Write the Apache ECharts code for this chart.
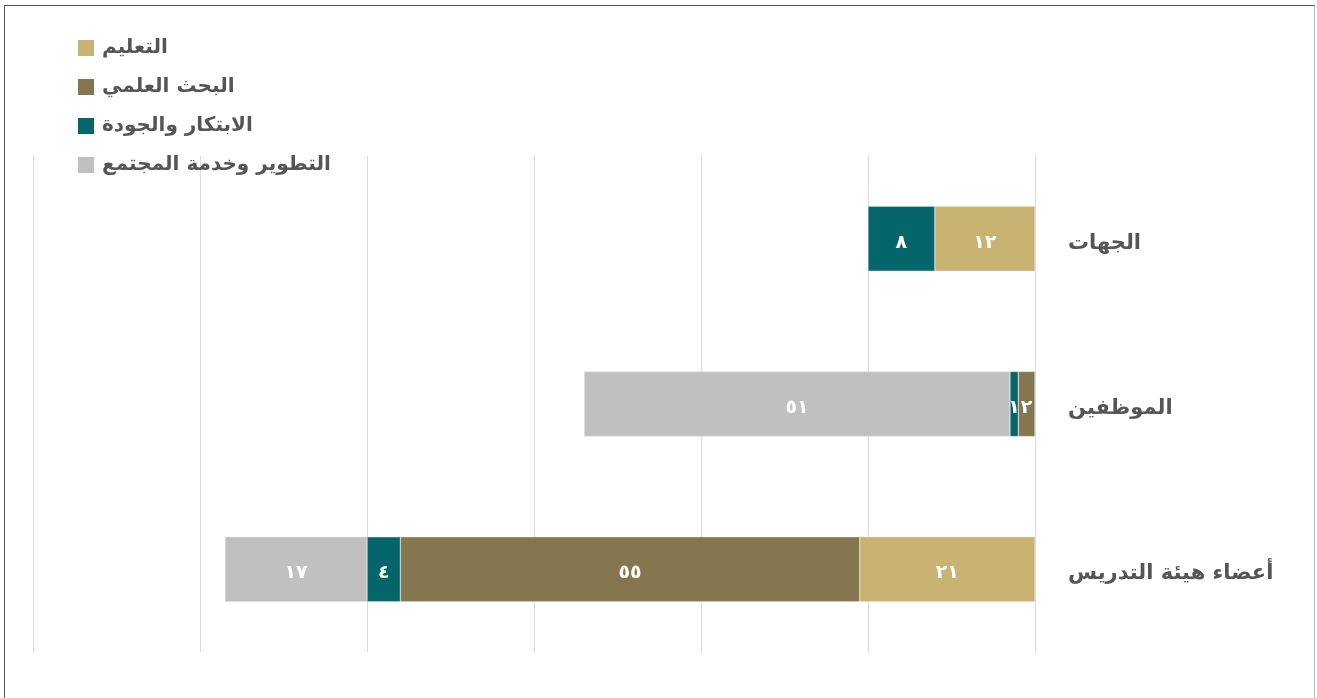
<!DOCTYPE html>
<html>
<head>
<meta charset="utf-8">
<script src="https://cdn.jsdelivr.net/npm/echarts@6/dist/echarts.min.js"></script>
<style>
html,body{margin:0;padding:0;background:#fff;}
#frame{position:absolute;left:4px;top:5px;width:1311px;height:720px;border:1px solid #555;border-right-color:#bbb;box-sizing:border-box;}
#chart{position:absolute;left:0;top:0;width:1317px;height:698px;}
</style>
</head>
<body>
<div id="frame"></div>
<div id="chart"></div>
<script>
const categories = ['الجهات', 'الموظفين', 'أعضاء هيئة التدريس'];
const seriesNames = ['التعليم', 'البحث العلمي', 'الابتكار والجودة', 'التطوير وخدمة المجتمع'];
const teaching = [12, null, 21];
const research = [null, 2, 55];
const innovation = [8, 1, 4];
const community = [null, 51, 17];
const colors = ['#C9B373', '#857650', '#04666B', '#C0C0C0'];
const axisMax = 120;
const axisInterval = 20;

const arabicDigits = '٠١٢٣٤٥٦٧٨٩';
function toArabic(n) {
  return String(n).replace(/[0-9]/g, d => arabicDigits[+d]);
}

const values = [teaching, research, innovation, community];
const chart = echarts.init(document.getElementById('chart'), null, {renderer: 'canvas'});
chart.setOption({
  animation: false,
  color: colors,
  textStyle: {fontFamily: 'DejaVu Sans, Noto Sans, sans-serif'},
  legend: {
    orient: 'vertical',
    left: 78,
    top: 38,
    padding: 0,
    itemWidth: 16,
    itemHeight: 16,
    itemGap: 19,
    icon: 'rect',
    itemStyle: {borderWidth: 0},
    textStyle: {fontSize: 20, fontWeight: 'bold', color: '#555', padding: [5, 0, 0, 3]},
    data: seriesNames
  },
  grid: {left: 33, right: 282, top: 156, bottom: 46, containLabel: false},
  xAxis: {
    type: 'value',
    inverse: true,
    min: 0,
    max: axisMax,
    interval: axisInterval,
    axisLabel: {show: false},
    axisLine: {show: false},
    axisTick: {show: false},
    splitLine: {show: true, lineStyle: {color: '#dcdcdc', width: 1}}
  },
  yAxis: {
    type: 'category',
    position: 'right',
    inverse: true,
    data: categories,
    axisLine: {show: false},
    axisTick: {show: false},
    axisLabel: {
      margin: 33,
      align: 'left',
      formatter: v => '{c|' + v + '}',
      rich: {
        c: {fontSize: 21, fontWeight: 'bold', color: '#555', padding: [9, 0, 0, 0], fontFamily: 'DejaVu Sans, Noto Sans, sans-serif'}
      }
    }
  },
  series: seriesNames.map((name, i) => ({
    name: name,
    type: 'bar',
    stack: 'total',
    barWidth: 65,
    data: values[i],
    itemStyle: {color: colors[i], borderColor: 'rgba(230,230,230,0.8)', borderWidth: 0.5},
    label: {
      show: true,
      position: 'inside',
      color: '#fff',
      fontSize: 19,
      fontWeight: 'bold',
      offset: [0, 4],
      formatter: p => toArabic(p.value)
    }
  }))
});
</script>
</body>
</html>
